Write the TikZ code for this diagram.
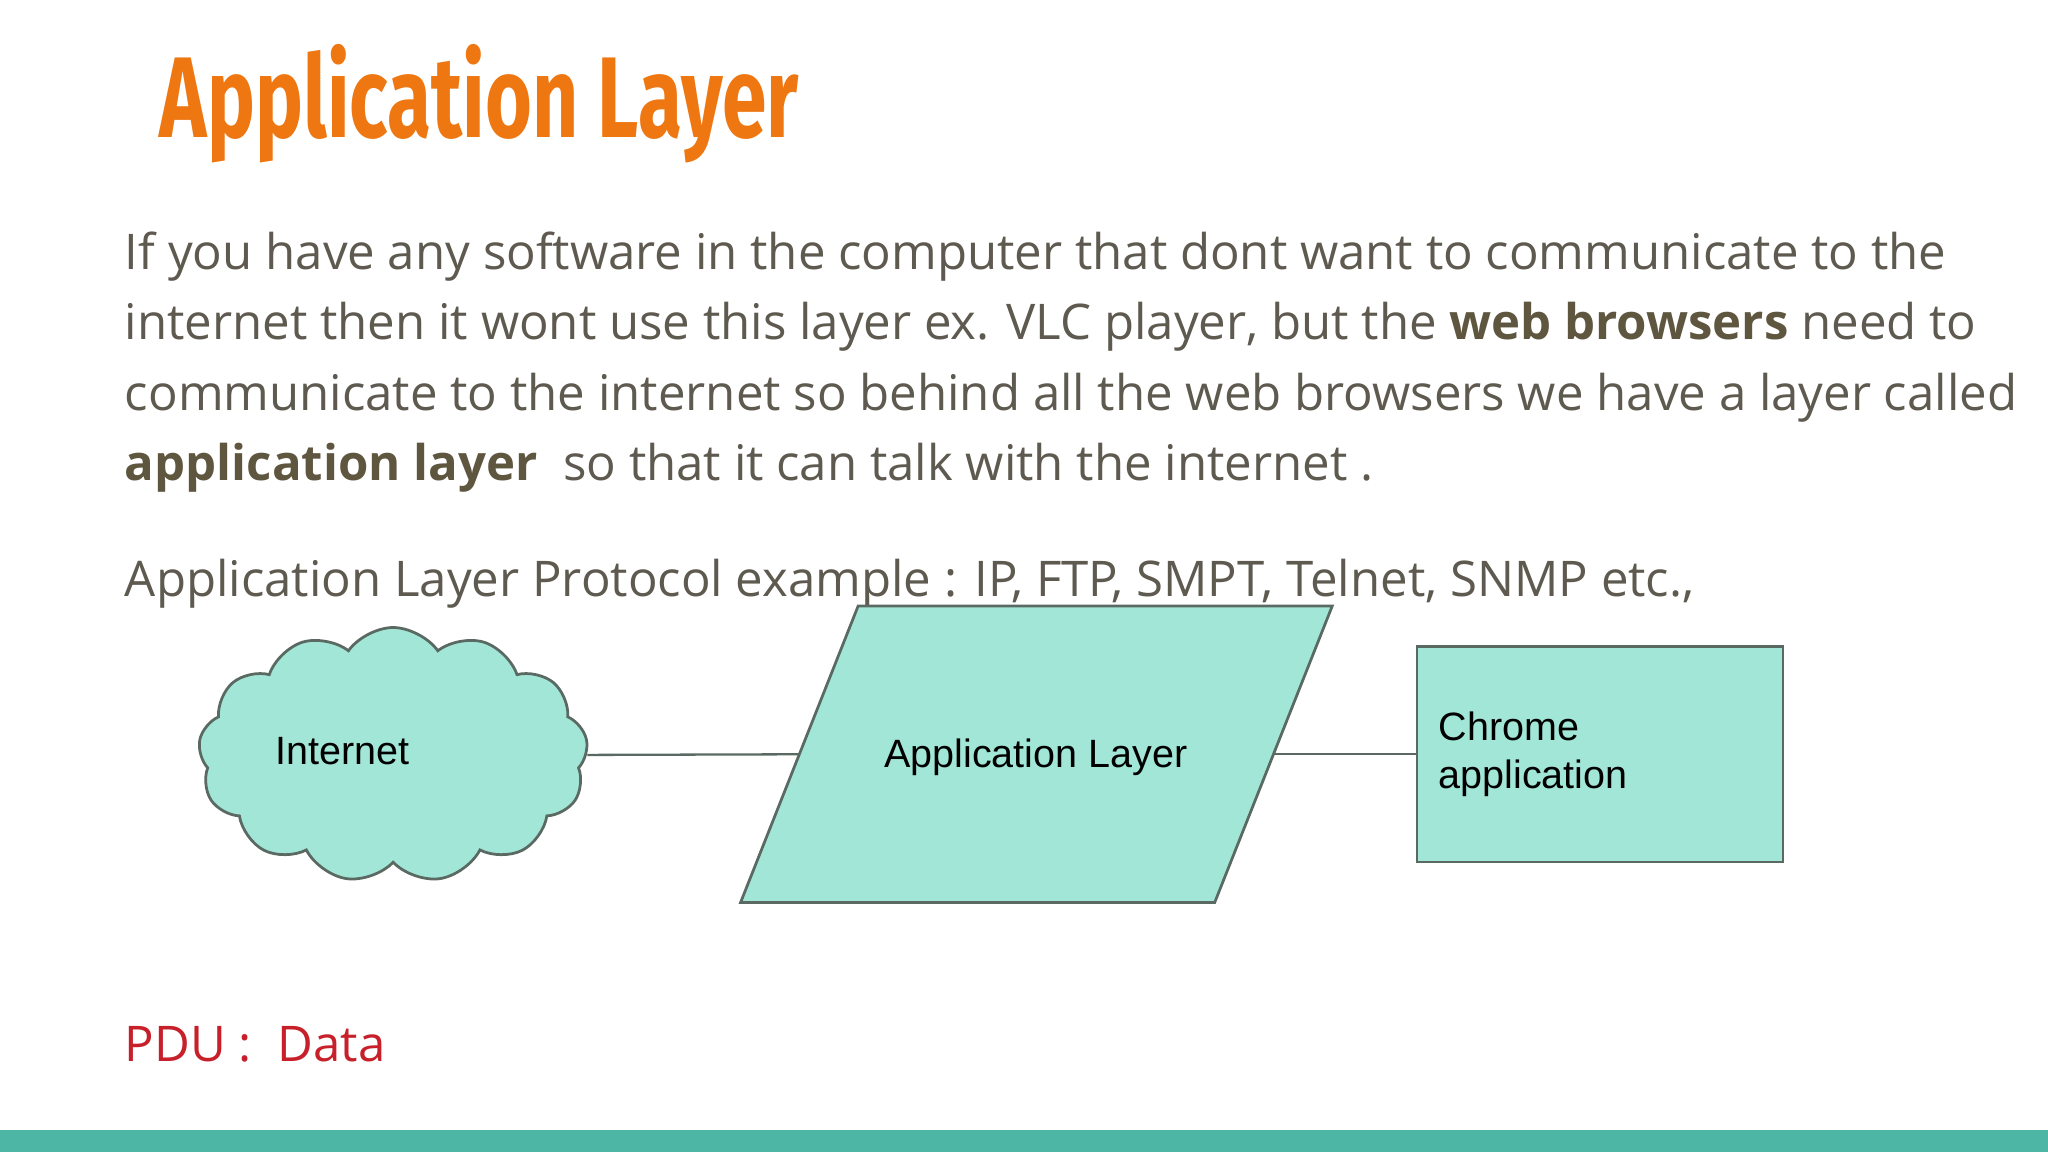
\documentclass[tikz,border=0pt]{standalone}
\usepackage{fontspec}
\setmainfont{Open Sans}
\newfontfamily\titlefont{Fira Sans}
\newfontfamily\diagfont{Liberation Sans}
\usetikzlibrary{shapes.symbols}
\definecolor{bodyc}{HTML}{5E5A50}
\definecolor{boldc}{HTML}{5F5640}
\definecolor{titlec}{HTML}{EE7711}
\definecolor{fillc}{HTML}{A2E6D8}
\definecolor{edgec}{HTML}{5A6A62}
\definecolor{barc}{HTML}{4DB6A4}
\definecolor{pduc}{HTML}{C8202A}
\begin{document}
\begin{tikzpicture}[x=0.01cm,y=-0.01cm,
  body/.style={anchor=base west,inner sep=0,font=\fontsize{10.7}{13}\selectfont,text=bodyc},
  shp/.style={fill=fillc,draw=edgec,line width=0.6pt},
  lbl/.style={font=\diagfont\fontsize{8.6}{10.5}\selectfont,text=black},
  conn/.style={draw=edgec,line width=0.5pt}]
\useasboundingbox (0,0) rectangle (1568,882);
\fill[white] (0,0) rectangle (1568,882);
\fill[barc] (0,865) rectangle (1568,882);
\node[anchor=base west,inner sep=0,font=\titlefont\bfseries\fontsize{25}{30}\selectfont,text=titlec,xscale=0.70] (title) at (122,105) {Application Layer};
\node[body] (l1) at (95,206) {If you have any software in the computer that dont want to communicate to the};
\node[body] (l2) at (95,260) {internet then it wont use this layer ex. VLC player, but the \textcolor{boldc}{\bfseries web browsers} need to};
\node[body] (l3) at (95,314) {communicate to the internet so behind all the web browsers we have a layer called};
\node[body] (l4) at (95,368) {\textcolor{boldc}{\bfseries application layer}\ \ so that it can talk with the internet .};
\node[body] (l5) at (95,457) {Application Layer Protocol example : IP, FTP, SMPT, Telnet, SNMP etc.,};
\node[body,text=pduc] (pdu) at (95,813) {PDU :\ \ Data};
% cloud
\node[shp,cloud,cloud puffs=13,cloud puff arc=110,aspect=1.5,minimum width=2.98cm,minimum height=1.95cm,inner sep=0] (cloud) at (301,578) {};
\node[lbl] (inet) at (262,575) {Internet};
% parallelogram
\coordinate (pa) at (567,691); \coordinate (pb) at (930,691);
\coordinate (pc) at (1020,464); \coordinate (pd) at (657,464);
\path[shp] (pa) -- (pb) -- (pc) -- (pd) -- cycle;
\coordinate (pl) at (612,577.5); \coordinate (pr) at (975,577.5);
\node[lbl] (app) at (793,580) {Application Layer};
% rectangle
\node[shp,minimum width=2.8cm,minimum height=1.65cm,inner sep=0] (rect) at (1225,577.5) {};
\node[lbl,anchor=west,align=left] (chrome) at (1089,577.5) {Chrome\\application};
\draw[conn] (cloud.east) -- (pl);
\draw[conn] (pr) -- (rect.west);
\end{tikzpicture}
\end{document}
